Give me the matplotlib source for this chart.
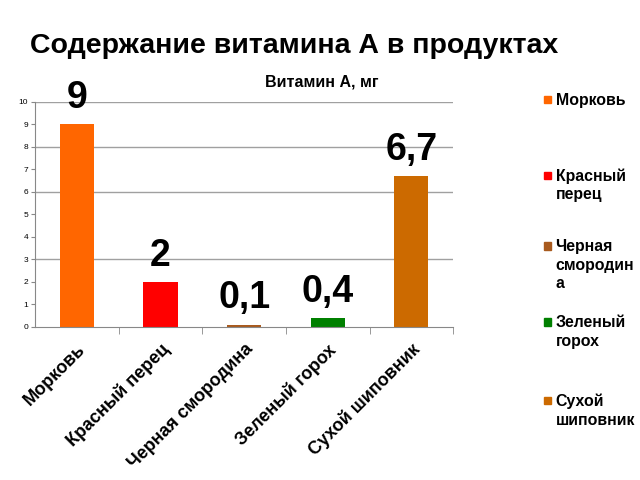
import matplotlib.pyplot as plt
import matplotlib.patches as mpatches
import numpy as np

plt.rcParams['font.family'] = ['Liberation Sans', 'DejaVu Sans']

# Données
produits = ["Морковь", "Красный перец", "Черная смородина", "Зеленый горох", "Сухой шиповник"]
legende = ["Морковь", "Красный\nперец", "Черная\nсмородин\nа", "Зеленый\nгорох", "Сухой\nшиповник"]
valeurs = [9, 2, 0.1, 0.4, 6.7]
etiquettes = ["9", "2", "0,1", "0,4", "6,7"]
couleurs = ["#FF6600", "#FF0000", "#A85A1E", "#008000", "#CC6A00"]
grille = [3, 6, 8, 10]

fig = plt.figure(figsize=(6.4, 4.8), dpi=100)
ax = fig.add_axes([0.055, 0.319, 0.653, 0.4685])

x = np.arange(len(produits))
bars = ax.bar(x, valeurs, width=0.41, color=couleurs)

for xi, v, lab in zip(x, valeurs, etiquettes):
    ax.annotate(lab, (xi, v), xytext=(0, 6), textcoords='offset points',
                ha='center', va='bottom', fontsize=27, fontweight='bold')

ax.set_xlim(-0.5, len(produits) - 0.5)
ax.set_ylim(0, 10)
ax.set_yticks(range(0, 11))
ax.tick_params(axis='y', labelsize=6, length=3, color='#888888', pad=2)
for g in grille:
    ax.axhline(g, color='#A0A0A0', lw=1, zorder=0)

ax.set_xticks(x)
ax.set_xticklabels(produits, rotation=45, ha='right', rotation_mode='anchor',
                   fontsize=13, fontweight='bold')
ax.tick_params(axis='x', length=0, pad=10)
ax.set_xticks(np.arange(len(produits)) + 0.5, minor=True)
ax.tick_params(axis='x', which='minor', length=5, color='#888888')

for s in ['top', 'right']:
    ax.spines[s].set_visible(False)
for s in ['left', 'bottom']:
    ax.spines[s].set_color('#888888')

fig.text(0.503, 0.829, "Витамин А, мг", fontsize=11.5, fontweight='bold',
         ha='center', va='center')
fig.text(0.047, 0.905, "Содержание витамина А в продуктах", fontsize=20.5,
         fontweight='bold', va='center', ha='left')

# Légende manuelle
y_leg = [0.792, 0.635, 0.4875, 0.329, 0.165]
for lab, c, y in zip(legende, couleurs, y_leg):
    fig.patches.append(mpatches.Rectangle((0.850, y - 0.0075), 0.011, 0.015,
                                          color=c, transform=fig.transFigure))
    fig.text(0.868, y + 0.015, lab, fontsize=11.4, fontweight='bold', va='top',
             ha='left', linespacing=1.32, transform=fig.transFigure)

plt.savefig("out.png", dpi=100)
